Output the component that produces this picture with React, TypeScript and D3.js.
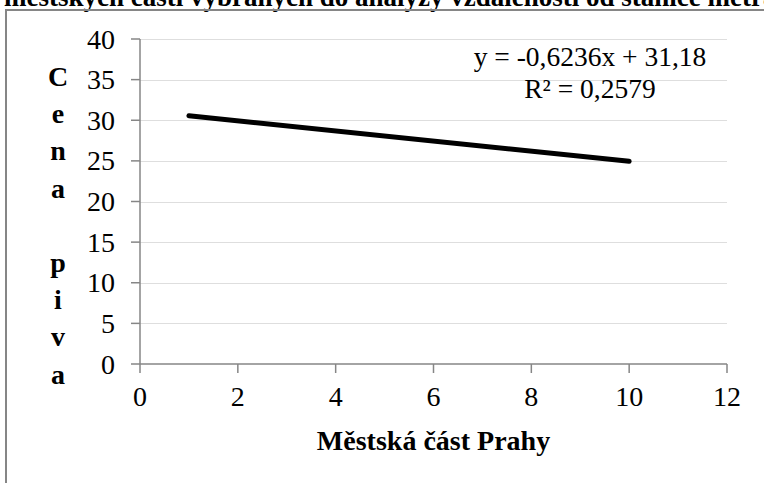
import React from "react";
import * as d3 from "d3";

// Axis ticks
const xTicks = [0, 2, 4, 6, 8, 10, 12];
const yTicks = [0, 5, 10, 15, 20, 25, 30, 35, 40];

// Linear trend of beer price across Prague districts
const trendX = [1, 10];
const trendSlope = [-0.6236];
const trendIntercept = [31.18];
const trendR2 = [0.2579];

const chartTitle = "městských částí vybraných do analýzy vzdálenosti od stanice metra";
const xTitle = "Městská část Prahy";
const yTitleLetters = ["C", "e", "n", "a", "", "p", "i", "v", "a"];

const W = 764;
const H = 483;
const SERIF = "'Liberation Serif', 'Times New Roman', serif";

const fmt = (v: number, digits: number) => v.toFixed(digits).replace(".", ",");

export default function App() {
  const x = d3.scaleLinear().domain([0, 12]).range([140, 727]);
  const y = d3.scaleLinear().domain([0, 40]).range([364, 39]);

  const slope = trendSlope[0];
  const intercept = trendIntercept[0];
  const trendPoints: [number, number][] = trendX.map((v) => [v, slope * v + intercept]);
  const line = d3
    .line<[number, number]>()
    .x((d) => x(d[0]))
    .y((d) => y(d[1]));

  const eq = `y = ${slope < 0 ? "-" : ""}${fmt(Math.abs(slope), 4)}x + ${fmt(intercept, 2)}`;
  const r2 = `R² = ${fmt(trendR2[0], 4)}`;

  const axisColor = "#868686";
  const gridColor = "#dedede";
  const txt = { fontFamily: SERIF, fill: "#000" } as const;

  return (
    <svg
      width={W}
      height={H}
      style={{ position: "absolute", left: 0, top: 0, background: "#fff" }}
    >
      <rect x={0} y={0} width={W} height={H} fill="#fff" />

      {/* title, running past the frame */}
      <text x={4} y={5.5} fontSize={27} fontWeight="bold" style={txt}>
        {chartTitle}
      </text>

      {/* chart frame */}
      <line x1={6} y1={10} x2={W} y2={10} stroke={axisColor} strokeWidth={2} />
      <line x1={6} y1={9} x2={6} y2={H} stroke={axisColor} strokeWidth={2} />

      {/* horizontal gridlines */}
      {yTicks
        .filter((t) => t !== 0)
        .map((t) => (
          <line
            key={`g${t}`}
            x1={x(0)}
            x2={x(12)}
            y1={Math.round(y(t)) + 0.5}
            y2={Math.round(y(t)) + 0.5}
            stroke={gridColor}
            strokeWidth={1}
          />
        ))}

      {/* y axis */}
      <line x1={x(0)} x2={x(0)} y1={y(40)} y2={y(0)} stroke={axisColor} strokeWidth={1.5} />
      {yTicks.map((t) => (
        <g key={`y${t}`}>
          <line x1={x(0) - 9} x2={x(0)} y1={y(t)} y2={y(t)} stroke={axisColor} strokeWidth={1.5} />
          <text x={115} y={y(t) + 9.5} fontSize={28} textAnchor="end" style={txt}>
            {t}
          </text>
        </g>
      ))}

      {/* x axis */}
      <line x1={x(0)} x2={x(12)} y1={y(0)} y2={y(0)} stroke={axisColor} strokeWidth={1.5} />
      {xTicks.map((t) => (
        <g key={`x${t}`}>
          <line x1={x(t)} x2={x(t)} y1={y(0)} y2={y(0) + 9} stroke={axisColor} strokeWidth={1.5} />
          <text x={x(t)} y={406} fontSize={28} textAnchor="middle" style={txt}>
            {t}
          </text>
        </g>
      ))}

      {/* trend line */}
      <path
        d={line(trendPoints) ?? ""}
        fill="none"
        stroke="#000"
        strokeWidth={5}
        strokeLinecap="round"
      />

      {/* equation label */}
      <text x={590} y={66} fontSize={27.5} textAnchor="middle" style={txt}>
        {eq}
      </text>
      <text x={590} y={98} fontSize={27.5} textAnchor="middle" style={txt}>
        {r2}
      </text>

      {/* axis titles */}
      <text x={(x(0) + x(12)) / 2} y={450} fontSize={28} fontWeight="bold" textAnchor="middle" style={txt}>
        {xTitle}
      </text>
      {yTitleLetters.map((ch, i) => (
        <text
          key={`yt${i}`}
          x={58}
          y={86 + i * 37.2}
          fontSize={28}
          fontWeight="bold"
          textAnchor="middle"
          style={txt}
        >
          {ch}
        </text>
      ))}
    </svg>
  );
}
